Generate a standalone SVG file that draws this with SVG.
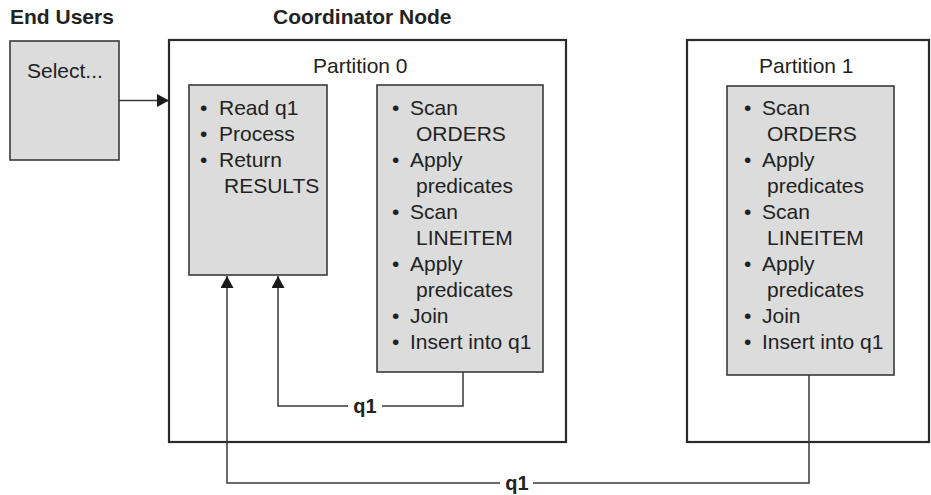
<svg xmlns="http://www.w3.org/2000/svg" width="931" height="495" viewBox="0 0 931 495">
<style>
text{font-family:"Liberation Sans",Arial,sans-serif;fill:#222;font-size:21px}
.b{font-weight:bold}
.q{font-weight:bold;font-size:20px}
.outer{fill:#fff;stroke:#2a2a2a;stroke-width:2.2}
.inner{fill:#dcdcdc;stroke:#3a3a3a;stroke-width:1.6}
.con{fill:none;stroke:#3a3a3a;stroke-width:1.5}
</style>
<defs>
<marker id="ah" markerWidth="12" markerHeight="13" refX="12" refY="6.5" orient="auto" markerUnits="userSpaceOnUse">
<path d="M0,0 L12,6.5 L0,13 Z" fill="#1a1a1a"/>
</marker>
</defs>
<rect width="931" height="495" fill="#fff"/>
<text class="b" x="10" y="24">End Users</text>
<text class="b" x="273" y="24">Coordinator Node</text>

<g id="end-users">
<rect class="inner" x="10" y="41" width="109" height="119"/>
<text x="27" y="78">Select...</text>
</g>

<g id="coordinator">
<rect class="outer" x="169" y="40" width="397" height="402"/>
<text x="313" y="73">Partition 0</text>
</g>

<g id="p0-left">
<rect class="inner" x="189" y="85" width="138" height="190"/>
<text x="200" y="115">•</text><text x="219" y="115">Read q1</text>
<text x="200" y="141">•</text><text x="219" y="141">Process</text>
<text x="200" y="167">•</text><text x="219" y="167">Return</text>
<text x="224" y="193">RESULTS</text>
</g>

<g id="p0-right">
<rect class="inner" x="377" y="85" width="166" height="287"/>
<text x="392" y="115">•</text><text x="410" y="115">Scan</text>
<text x="416" y="141">ORDERS</text>
<text x="392" y="167">•</text><text x="410" y="167">Apply</text>
<text x="416" y="193">predicates</text>
<text x="392" y="219">•</text><text x="410" y="219">Scan</text>
<text x="416" y="245">LINEITEM</text>
<text x="392" y="271">•</text><text x="410" y="271">Apply</text>
<text x="416" y="297">predicates</text>
<text x="392" y="323">•</text><text x="410" y="323">Join</text>
<text x="392" y="349">•</text><text x="410" y="349">Insert into q1</text>
</g>

<g id="partition1">
<rect class="outer" x="687" y="40" width="242" height="402"/>
<text x="759" y="73">Partition 1</text>
</g>

<g id="p1-inner">
<rect class="inner" x="727" y="86" width="167" height="289"/>
<text x="744" y="115">•</text><text x="762" y="115">Scan</text>
<text x="767" y="141">ORDERS</text>
<text x="744" y="167">•</text><text x="762" y="167">Apply</text>
<text x="767" y="193">predicates</text>
<text x="744" y="219">•</text><text x="762" y="219">Scan</text>
<text x="767" y="245">LINEITEM</text>
<text x="744" y="271">•</text><text x="762" y="271">Apply</text>
<text x="767" y="297">predicates</text>
<text x="744" y="323">•</text><text x="762" y="323">Join</text>
<text x="744" y="349">•</text><text x="762" y="349">Insert into q1</text>
</g>

<g id="connectors">
<path class="con" d="M119,100.5 H169" stroke="#1a1a1a" marker-end="url(#ah)"/>
<path class="con" d="M463,372 V406 H382"/>
<path class="con" d="M348,406 H278 V276" marker-end="url(#ah)"/>
<text class="q" x="365" y="413" text-anchor="middle">q1</text>
<path class="con" d="M809,375 V483 H533"/>
<path class="con" d="M500,483 H227 V276" marker-end="url(#ah)"/>
<text class="q" x="517" y="490" text-anchor="middle">q1</text>
</g>
</svg>
